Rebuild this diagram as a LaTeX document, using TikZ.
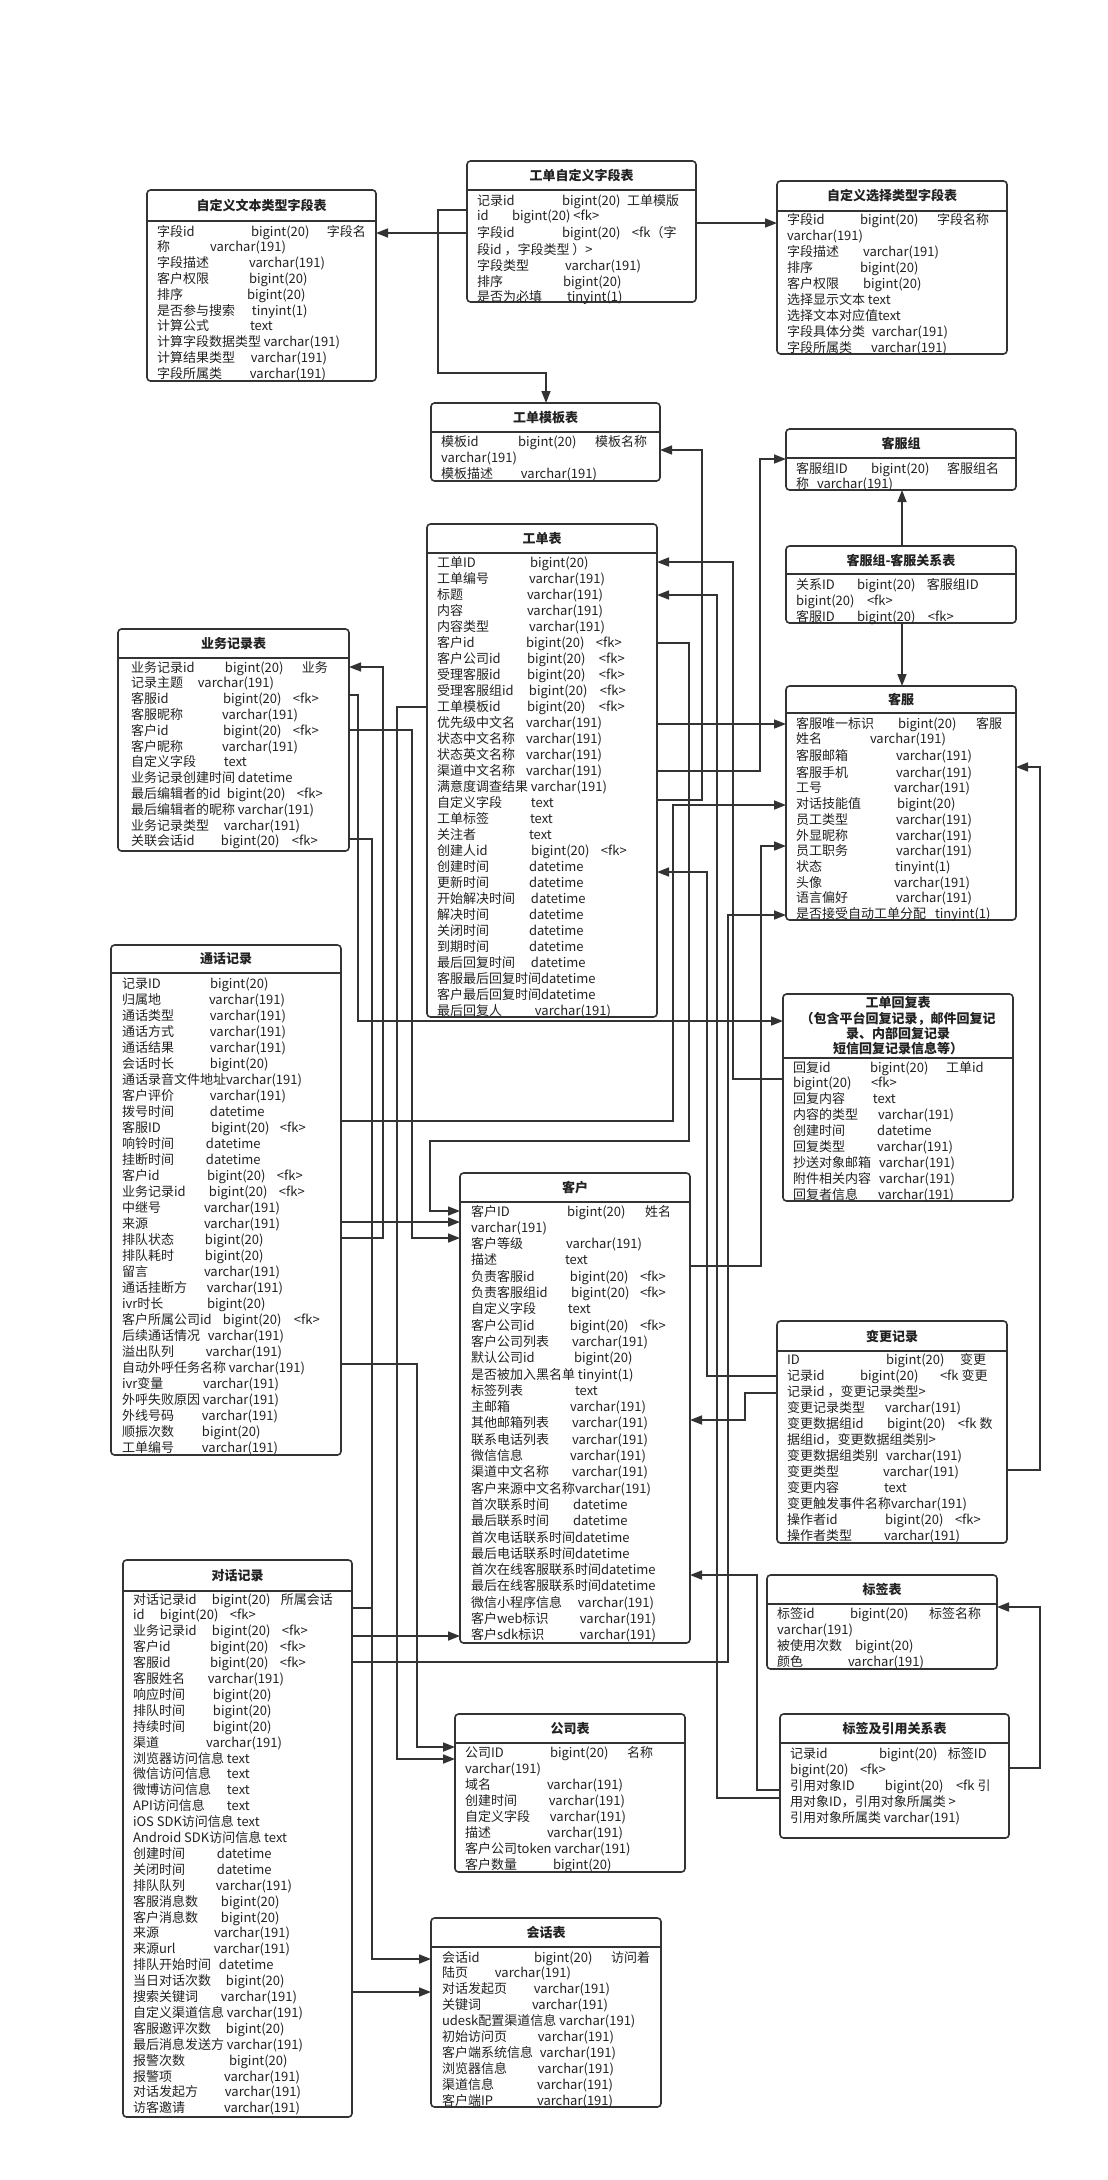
\documentclass[tikz,border=0pt]{standalone}
\usepackage{fontspec}
\setmainfont{Noto Sans CJK SC}
\usetikzlibrary{arrows.meta}
\definecolor{bc}{HTML}{333333}
\definecolor{tc}{HTML}{222222}
\newcommand\erA[3]{\strut\makebox[#2pt][l]{#1}#3}
\newcommand\erB[5]{\strut\makebox[#2pt][l]{#1}\makebox[\dimexpr #4pt-#2pt\relax][l]{#3}#5}
\newcommand\erC[1]{\strut #1}
\newcommand\etable[7]{%
  \node[tbox, minimum width={(#4)-(#2)}, minimum height={(#5)-(#3)}] (#1) at (#2,#3) {};
  \draw[hdr] (#1.west |- 0,#6) -- (#1.east |- 0,#6);
  \node[ttl] (#1t) at ({(#2+#4)/2},{(#3+#6)/2}) {#7};}
\newcommand\ebody[5]{\node[body, font=\fontsize{13}{#4}\selectfont] (#1) at (#2,{#3-0.7*#4+5}) {#5};}
\begin{document}
\begin{tikzpicture}[x=1pt,y=-1pt,
  tbox/.style={draw=bc, line width=1.6pt, rounded corners=3.5pt, inner sep=0pt, outer sep=0pt, anchor=north west},
  hdr/.style={draw=bc, line width=1.6pt},
  ttl/.style={font=\bfseries\fontsize{13}{15.3}\selectfont, text=tc, inner sep=0pt, align=center},
  body/.style={text=tc, inner sep=0pt, outer sep=0pt, anchor=north west, align=left},
  conn/.style={draw=bc, line width=1.6pt, -{Triangle[length=12pt,width=9pt]}},
  link/.style={draw=bc, line width=1.6pt},
]
\fill[white] (0,0) rectangle (1108,2180);
\useasboundingbox (0,0) rectangle (1108,2180);

% ---------- tables ----------
\etable{t1}{147}{190}{376}{381}{221}{自定义文本类型字段表}
\ebody{t1b}{157}{231}{15.8}{%
\erB{字段id}{94}{bigint(20)}{170}{字段名}\\
\erA{称}{53}{varchar(191)}\\
\erA{字段描述}{92}{varchar(191)}\\
\erA{客户权限}{92}{bigint(20)}\\
\erA{排序}{90}{bigint(20)}\\
\erA{是否参与搜索}{95}{tinyint(1)}\\
\erA{计算公式}{93}{text}\\
\erC{计算字段数据类型 varchar(191)}\\
\erA{计算结果类型}{94}{varchar(191)}\\
\erA{字段所属类}{93}{varchar(191)}}

\etable{t2}{467}{161}{696}{302}{190}{工单自定义字段表}
\ebody{t2b}{477}{200}{15.8}{%
\erB{记录id}{85}{bigint(20)}{150}{工单模版}\\
\erA{id}{35}{bigint(20) <fk>}\\
\erB{字段id}{85}{bigint(20)}{155}{<fk（字}\\
\erC{段id ，字段类型 ）>}\\
\erA{字段类型}{88}{varchar(191)}\\
\erA{排序}{86}{bigint(20)}\\
\erA{是否为必填}{90}{tinyint(1)}}

\etable{t3}{777}{181}{1007}{354}{211}{自定义选择类型字段表}
\ebody{t3b}{787}{219}{16}{%
\erB{字段id}{73}{bigint(20)}{150}{字段名称}\\
\erC{varchar(191)}\\
\erA{字段描述}{76}{varchar(191)}\\
\erA{排序}{73}{bigint(20)}\\
\erA{客户权限}{76}{bigint(20)}\\
\erC{选择显示文本 text}\\
\erC{选择文本对应值text}\\
\erA{字段具体分类}{85}{varchar(191)}\\
\erA{字段所属类}{84}{varchar(191)}}

\etable{t4}{431}{403}{660}{481}{432}{工单模板表}
\ebody{t4b}{441}{441}{16}{%
\erB{模板id}{77}{bigint(20)}{154}{模板名称}\\
\erC{varchar(191)}\\
\erA{模板描述}{80}{varchar(191)}}

\etable{t5}{786}{429}{1016}{490}{458}{客服组}
\ebody{t5b}{796}{468}{15.7}{%
\erB{客服组ID}{75}{bigint(20)}{151}{客服组名}\\
\erA{称}{21}{varchar(191)}}

\etable{t6}{786}{546}{1016}{623}{574}{客服组-客服关系表}
\ebody{t6b}{796}{584}{16.3}{%
\erB{关系ID}{61}{bigint(20)}{131}{客服组ID}\\
\erA{bigint(20)}{71}{<fk>}\\
\erB{客服ID}{61}{bigint(20)}{132}{<fk>}}

\etable{t7}{786}{686}{1016}{920}{713}{客服}
\ebody{t7b}{796}{723}{15.7}{%
\erB{客服唯一标识}{102}{bigint(20)}{180}{客服}\\
\erA{姓名}{74}{varchar(191)}\\
\erA{客服邮箱}{100}{varchar(191)}\\
\erA{客服手机}{100}{varchar(191)}\\
\erA{工号}{98}{varchar(191)}\\
\erA{对话技能值}{101}{bigint(20)}\\
\erA{员工类型}{100}{varchar(191)}\\
\erA{外显昵称}{100}{varchar(191)}\\
\erA{员工职务}{100}{varchar(191)}\\
\erA{状态}{99}{tinyint(1)}\\
\erA{头像}{98}{varchar(191)}\\
\erA{语言偏好}{100}{varchar(191)}\\
\erA{是否接受自动工单分配}{139}{tinyint(1)}}

\etable{t8}{427}{524}{657}{1017}{553}{工单表}
\ebody{t8b}{437}{562}{16}{%
\erA{工单ID}{93}{bigint(20)}\\
\erA{工单编号}{92}{varchar(191)}\\
\erA{标题}{90}{varchar(191)}\\
\erA{内容}{90}{varchar(191)}\\
\erA{内容类型}{92}{varchar(191)}\\
\erB{客户id}{89}{bigint(20)}{159}{<fk>}\\
\erB{客户公司id}{90}{bigint(20)}{162}{<fk>}\\
\erB{受理客服id}{90}{bigint(20)}{162}{<fk>}\\
\erB{受理客服组id}{92}{bigint(20)}{163}{<fk>}\\
\erB{工单模板id}{90}{bigint(20)}{162}{<fk>}\\
\erA{优先级中文名}{89}{varchar(191)}\\
\erA{状态中文名称}{89}{varchar(191)}\\
\erA{状态英文名称}{89}{varchar(191)}\\
\erA{渠道中文名称}{89}{varchar(191)}\\
\erC{满意度调查结果 varchar(191)}\\
\erA{自定义字段}{94}{text}\\
\erA{工单标签}{93}{text}\\
\erA{关注者}{92}{text}\\
\erB{创建人id}{94}{bigint(20)}{164}{<fk>}\\
\erA{创建时间}{92}{datetime}\\
\erA{更新时间}{92}{datetime}\\
\erA{开始解决时间}{94}{datetime}\\
\erA{解决时间}{92}{datetime}\\
\erA{关闭时间}{92}{datetime}\\
\erA{到期时间}{92}{datetime}\\
\erA{最后回复时间}{94}{datetime}\\
\erC{客服最后回复时间datetime}\\
\erC{客户最后回复时间datetime}\\
\erA{最后回复人}{98}{varchar(191)}}

\etable{t9}{118}{629}{349}{851}{658}{业务记录表}
\ebody{t9b}{131}{667}{15.8}{%
\erB{业务记录id}{94}{bigint(20)}{171}{业务}\\
\erA{记录主题}{67}{varchar(191)}\\
\erB{客服id}{92}{bigint(20)}{162}{<fk>}\\
\erA{客服昵称}{91}{varchar(191)}\\
\erB{客户id}{92}{bigint(20)}{162}{<fk>}\\
\erA{客户昵称}{91}{varchar(191)}\\
\erA{自定义字段}{93}{text}\\
\erC{业务记录创建时间 datetime}\\
\erB{最后编辑者的id}{96}{bigint(20)}{166}{<fk>}\\
\erC{最后编辑者的昵称 varchar(191)}\\
\erA{业务记录类型}{93}{varchar(191)}\\
\erB{关联会话id}{90}{bigint(20)}{161}{<fk>}}

\etable{t10}{111}{945}{341}{1455}{973}{通话记录}
\ebody{t10b}{122}{983}{16}{%
\erA{记录ID}{88}{bigint(20)}\\
\erA{归属地}{87}{varchar(191)}\\
\erA{通话类型}{88}{varchar(191)}\\
\erA{通话方式}{88}{varchar(191)}\\
\erA{通话结果}{88}{varchar(191)}\\
\erA{会话时长}{88}{bigint(20)}\\
\erC{通话录音文件地址varchar(191)}\\
\erA{客户评价}{88}{varchar(191)}\\
\erA{拨号时间}{88}{datetime}\\
\erB{客服ID}{89}{bigint(20)}{158}{<fk>}\\
\erA{响铃时间}{84}{datetime}\\
\erA{挂断时间}{84}{datetime}\\
\erB{客户id}{85}{bigint(20)}{155}{<fk>}\\
\erB{业务记录id}{87}{bigint(20)}{157}{<fk>}\\
\erA{中继号}{82}{varchar(191)}\\
\erA{来源}{82}{varchar(191)}\\
\erA{排队状态}{83}{bigint(20)}\\
\erA{排队耗时}{83}{bigint(20)}\\
\erA{留言}{82}{varchar(191)}\\
\erA{通话挂断方}{85}{varchar(191)}\\
\erA{ivr时长}{85}{bigint(20)}\\
\erB{客户所属公司id}{101}{bigint(20)}{172}{<fk>}\\
\erA{后续通话情况}{86}{varchar(191)}\\
\erA{溢出队列}{84}{varchar(191)}\\
\erC{自动外呼任务名称 varchar(191)}\\
\erA{ivr变量}{81}{varchar(191)}\\
\erC{外呼失败原因 varchar(191)}\\
\erA{外线号码}{80}{varchar(191)}\\
\erA{顺振次数}{80}{bigint(20)}\\
\erA{工单编号}{80}{varchar(191)}}

\etable{t11}{783}{994}{1013}{1201}{1058}{工单回复表\\（包含平台回复记录，邮件回复记\\录、内部回复记录\\短信回复记录信息等）}
\ebody{t11b}{793}{1067}{15.9}{%
\erB{回复id}{77}{bigint(20)}{153}{工单id}\\
\erA{bigint(20)}{78}{<fk>}\\
\erA{回复内容}{80}{text}\\
\erA{内容的类型}{85}{varchar(191)}\\
\erA{创建时间}{84}{datetime}\\
\erA{回复类型}{84}{varchar(191)}\\
\erA{抄送对象邮箱}{86}{varchar(191)}\\
\erA{附件相关内容}{86}{varchar(191)}\\
\erA{回复者信息}{85}{varchar(191)}}

\etable{t12}{777}{1321}{1007}{1543}{1351}{变更记录}
\ebody{t12b}{787}{1359}{16}{%
\erB{ID}{99}{bigint(20)}{173}{变更}\\
\erB{记录id}{73}{bigint(20)}{153}{<fk 变更}\\
\erC{记录id ，变更记录类型>}\\
\erA{变更记录类型}{98}{varchar(191)}\\
\erB{变更数据组id}{100}{bigint(20)}{171}{<fk 数}\\
\erC{据组id，变更数据组类别>}\\
\erA{变更数据组类别}{99}{varchar(191)}\\
\erA{变更类型}{96}{varchar(191)}\\
\erA{变更内容}{97}{text}\\
\erC{变更触发事件名称varchar(191)}\\
\erB{操作者id}{98}{bigint(20)}{168}{<fk>}\\
\erA{操作者类型}{97}{varchar(191)}}

\etable{t13}{460}{1173}{690}{1643}{1202}{客户}
\ebody{t13b}{471}{1211}{16.3}{%
\erB{客户ID}{96}{bigint(20)}{174}{姓名}\\
\erC{varchar(191)}\\
\erA{客户等级}{95}{varchar(191)}\\
\erA{描述}{94}{text}\\
\erB{负责客服id}{99}{bigint(20)}{169}{<fk>}\\
\erB{负责客服组id}{100}{bigint(20)}{169}{<fk>}\\
\erA{自定义字段}{97}{text}\\
\erB{客户公司id}{99}{bigint(20)}{169}{<fk>}\\
\erA{客户公司列表}{101}{varchar(191)}\\
\erA{默认公司id}{103}{bigint(20)}\\
\erC{是否被加入黑名单 tinyint(1)}\\
\erA{标签列表}{104}{text}\\
\erA{主邮箱}{99}{varchar(191)}\\
\erA{其他邮箱列表}{101}{varchar(191)}\\
\erA{联系电话列表}{101}{varchar(191)}\\
\erA{微信信息}{99}{varchar(191)}\\
\erA{渠道中文名称}{101}{varchar(191)}\\
\erC{客户来源中文名称varchar(191)}\\
\erA{首次联系时间}{102}{datetime}\\
\erA{最后联系时间}{102}{datetime}\\
\erC{首次电话联系时间datetime}\\
\erC{最后电话联系时间datetime}\\
\erC{首次在线客服联系时间datetime}\\
\erC{最后在线客服联系时间datetime}\\
\erA{微信小程序信息}{107}{varchar(191)}\\
\erA{客户web标识}{109}{varchar(191)}\\
\erA{客户sdk标识}{109}{varchar(191)}}

\etable{t14}{767}{1575}{997}{1669}{1604}{标签表}
\ebody{t14b}{777}{1613}{16.3}{%
\erB{标签id}{73}{bigint(20)}{152}{标签名称}\\
\erC{varchar(191)}\\
\erA{被使用次数}{78}{bigint(20)}\\
\erA{颜色}{71}{varchar(191)}}

\etable{t15}{780}{1714}{1009}{1838}{1743}{标签及引用关系表}
\ebody{t15b}{790}{1753}{16}{%
\erB{记录id}{89}{bigint(20)}{158}{标签ID}\\
\erA{bigint(20)}{70}{<fk>}\\
\erB{引用对象ID}{95}{bigint(20)}{166}{<fk 引}\\
\erC{用对象ID，引用对象所属类 >}\\
\erC{引用对象所属类 varchar(191)}}

\etable{t16}{455}{1714}{685}{1872}{1743}{公司表}
\ebody{t16b}{465}{1752}{16}{%
\erB{公司ID}{85}{bigint(20)}{162}{名称}\\
\erC{varchar(191)}\\
\erA{域名}{82}{varchar(191)}\\
\erA{创建时间}{84}{varchar(191)}\\
\erA{自定义字段}{85}{varchar(191)}\\
\erA{描述}{82}{varchar(191)}\\
\erC{客户公司token varchar(191)}\\
\erA{客户数量}{88}{bigint(20)}}

\etable{t17}{431}{1918}{661}{2107}{1947}{会话表}
\ebody{t17b}{442}{1957}{15.9}{%
\erB{会话id}{92}{bigint(20)}{169}{访问着}\\
\erA{陆页}{53}{varchar(191)}\\
\erA{对话发起页}{92}{varchar(191)}\\
\erA{关键词}{90}{varchar(191)}\\
\erC{udesk配置渠道信息 varchar(191)}\\
\erA{初始访问页}{96}{varchar(191)}\\
\erA{客户端系统信息}{98}{varchar(191)}\\
\erA{浏览器信息}{96}{varchar(191)}\\
\erA{渠道信息}{95}{varchar(191)}\\
\erA{客户端IP}{95}{varchar(191)}}

\etable{t18}{123}{1560}{352}{2117}{1591}{对话记录}
\ebody{t18b}{133}{1599}{15.9}{%
\erB{对话记录id}{79}{bigint(20)}{148}{所属会话}\\
\erB{id}{27}{bigint(20)}{97}{<fk>}\\
\erB{业务记录id}{79}{bigint(20)}{149}{<fk>}\\
\erB{客户id}{77}{bigint(20)}{147}{<fk>}\\
\erB{客服id}{77}{bigint(20)}{147}{<fk>}\\
\erA{客服姓名}{75}{varchar(191)}\\
\erA{响应时间}{80}{bigint(20)}\\
\erA{排队时间}{80}{bigint(20)}\\
\erA{持续时间}{80}{bigint(20)}\\
\erA{渠道}{73}{varchar(191)}\\
\erC{浏览器访问信息 text}\\
\erA{微信访问信息}{94}{text}\\
\erA{微博访问信息}{94}{text}\\
\erA{API访问信息}{94}{text}\\
\erC{iOS SDK访问信息 text}\\
\erC{Android SDK访问信息 text}\\
\erA{创建时间}{84}{datetime}\\
\erA{关闭时间}{84}{datetime}\\
\erA{排队队列}{83}{varchar(191)}\\
\erA{客服消息数}{88}{bigint(20)}\\
\erA{客户消息数}{88}{bigint(20)}\\
\erA{来源}{81}{varchar(191)}\\
\erA{来源url}{81}{varchar(191)}\\
\erA{排队开始时间}{86}{datetime}\\
\erA{当日对话次数}{93}{bigint(20)}\\
\erA{搜索关键词}{88}{varchar(191)}\\
\erC{自定义渠道信息 varchar(191)}\\
\erA{客服邀评次数}{93}{bigint(20)}\\
\erC{最后消息发送方 varchar(191)}\\
\erA{报警次数}{96}{bigint(20)}\\
\erA{报警项}{91}{varchar(191)}\\
\erA{对话发起方}{92}{varchar(191)}\\
\erA{访客邀请}{91}{varchar(191)}}

% ---------- connectors ----------
\draw[conn] (t2.west |- 0,233) -- (t1.east |- 0,233);
\draw[conn] (t2.west |- 0,210) -- (438,210) -- (438,373) -- (546,373) -- (t4.north -| 546,0);
\draw[conn] (t2.east |- 0,223) -- (t3.west |- 0,223);
\draw[conn] (t8.east |- 0,800) -- (702,800) -- (702,450) -- (t4.east |- 0,450);
\draw[conn] (t8.east |- 0,771) -- (760,771) -- (760,459) -- (t5.west |- 0,459);
\draw[conn] (t6.north -| 902,0) -- (t5.south -| 902,0);
\draw[conn] (t6.south -| 902,0) -- (t7.north -| 902,0);
\draw[conn] (t8.east |- 0,724) -- (t7.west |- 0,724);
\draw[conn] (t8.east |- 0,643) -- (689,643) -- (689,1141) -- (430,1141) -- (430,1211) -- (t13.west |- 0,1211);
\draw[conn] (t11.west |- 0,1079) -- (733,1079) -- (733,562) -- (t8.east |- 0,562);
\draw[conn] (t9.east |- 0,695) -- (358,695) -- (358,1021) -- (t11.west |- 0,1021);
\draw[conn] (t9.east |- 0,730) -- (412,730) -- (412,1238) -- (t13.west |- 0,1238);
\draw[conn] (t10.east |- 0,1238) -- (383,1238) -- (383,667) -- (t9.east |- 0,667);
\draw[conn] (t10.east |- 0,1222) -- (t13.west |- 0,1222);
\draw[conn] (t10.east |- 0,1121) -- (673,1121) -- (673,805) -- (t7.west |- 0,805);
\draw[conn] (t8.west |- 0,707) -- (397,707) -- (397,1759) -- (t16.west |- 0,1759);
\draw[conn] (t13.east |- 0,1266) -- (761,1266) -- (761,846) -- (t7.west |- 0,846);
\draw[conn] (t12.east |- 0,1470) -- (1040,1470) -- (1040,767) -- (t7.east |- 0,767);
\draw[conn] (t15.east |- 0,1768) -- (1040,1768) -- (1040,1607) -- (t14.east |- 0,1607);
\draw[conn] (t15.west |- 0,1790) -- (757,1790) -- (757,1575) -- (t13.east |- 0,1575);
\draw[conn] (t15.west |- 0,1798) -- (717,1798) -- (717,595) -- (t8.east |- 0,595);
\draw[conn] (t12.west |- 0,1376) -- (707,1376) -- (707,872) -- (t8.east |- 0,872);
\draw[conn] (t12.west |- 0,1393) -- (745,1393) -- (745,1420) -- (t13.east |- 0,1420);
\draw[conn] (t18.east |- 0,1662) -- (728,1662) -- (728,915) -- (t7.west |- 0,915);
\draw[conn] (t18.east |- 0,1636) -- (t13.west |- 0,1636);
\draw[conn] (t10.east |- 0,1364) -- (417,1364) -- (417,1747) -- (t16.west |- 0,1747);
\draw[conn] (t9.east |- 0,839) -- (372,839) -- (372,1959) -- (t17.west |- 0,1959);
\draw[conn] (t18.east |- 0,1992) -- (t17.west |- 0,1992);
\coordinate (j1) at (372,1608);
\draw[link] (t18.east |- 0,1608) -- (j1);
\end{tikzpicture}
\end{document}
